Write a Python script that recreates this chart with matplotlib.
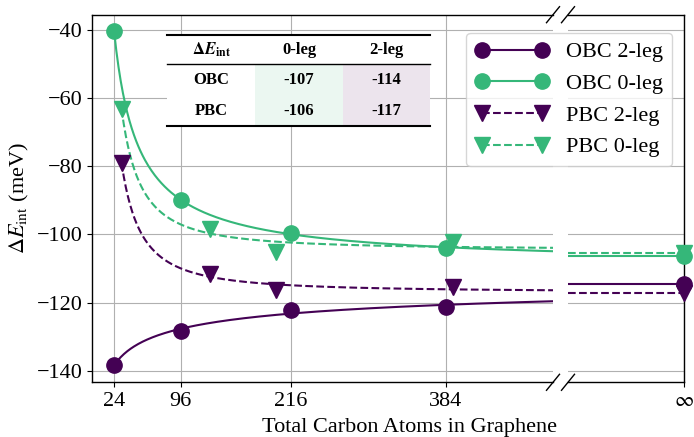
import numpy as np
import matplotlib
matplotlib.use('Agg')
import matplotlib.pyplot as plt
from matplotlib.lines import Line2D
from matplotlib.patches import Rectangle

plt.rcParams['font.family'] = ['Liberation Serif', 'DejaVu Serif']
plt.rcParams['mathtext.fontset'] = 'stix'
plt.rcParams['font.size'] = 16

purple = '#440154'
green = '#35b779'

# data
n_obc = [24, 96, 216, 384]
n_pbc = [32, 128, 200, 392]
obc_2leg = [-138.3, -128.3, -122.2, -121.2]
obc_0leg = [-40.5, -90.0, -99.5, -104.1]
pbc_2leg = [-79.0, -111.7, -116.2, -115.4]
pbc_0leg = [-63.2, -98.3, -105.1, -102.2]

# extrapolated values (N -> infinity)
inf_obc_2leg = -114.5
inf_obc_0leg = -106.4
inf_pbc_2leg = -117.2
inf_pbc_0leg = -105.5

xticks = [24, 96, 216, 384]

table_head = [r'$\boldsymbol{\Delta E}_{\mathbf{int}}$', '0-leg', '2-leg']
table_rows = [['OBC', '-107', '-114'],
              ['PBC', '-106', '-117']]


def fit_curve(n, y, n_end=500):
    # y = a + b * N^-c, c picked by a small grid search
    n = np.asarray(n, float)
    y = np.asarray(y, float)
    best = None
    for c in np.linspace(0.1, 3.0, 291):
        A = np.column_stack([np.ones_like(n), n ** -c])
        coef = np.linalg.lstsq(A, y, rcond=None)[0]
        err = np.sum((A @ coef - y) ** 2)
        if best is None or err < best[0]:
            best = (err, c, coef)
    _, c, (a, b) = best
    xx = np.linspace(n[0], n_end, 400)
    return xx, a + b * xx ** -c


fig = plt.figure(figsize=(6.94, 4.37), dpi=100)
W, H = 694, 437
bot = 1 - 382.3 / H
hgt = 367.6 / H
ax = fig.add_axes([92 / W, bot, 461 / W, hgt])
ax2 = fig.add_axes([568 / W, bot, 116 / W, hgt], sharey=ax)

series = [
    ('OBC 2-leg', n_obc, obc_2leg, inf_obc_2leg, purple, 'o', '-'),
    ('OBC 0-leg', n_obc, obc_0leg, inf_obc_0leg, green, 'o', '-'),
    ('PBC 2-leg', n_pbc, pbc_2leg, inf_pbc_2leg, purple, 'v', '--'),
    ('PBC 0-leg', n_pbc, pbc_0leg, inf_pbc_0leg, green, 'v', '--'),
]

handles = []
for label, n, y, yinf, col, mk, ls in series:
    xx, yy = fit_curve(n, y)
    ax.plot(xx, yy, color=col, ls=ls, lw=1.5, zorder=2)
    ax.plot(n, y, ls='none', marker=mk, color=col, ms=11, zorder=3)
    ax2.plot([0, 1], [yinf, yinf], color=col, ls=ls, lw=1.5, zorder=2)
    ax2.plot([1], [yinf], ls='none', marker=mk, color=col, ms=11,
             clip_on=False, zorder=3)
    handles.append(Line2D([], [], color=col, ls=ls, lw=1.5, marker=mk, ms=11,
                          label=label))

ax.set_xlim(0, 500)
ax.set_ylim(-143.4, -35.6)
ax.set_xticks(xticks)
ax.set_yticks([-140, -120, -100, -80, -60, -40])
ax.grid(True, color='#b0b0b0', lw=0.8)
ax.spines['right'].set_visible(False)
ax.set_ylabel(r'$\Delta E_{\mathrm{int}}$ (meV)')

ax2.set_xlim(0, 1)
ax2.set_xticks([1])
ax2.set_xticklabels([r'$\infty$'], fontsize=15)
ax2.grid(True, color='#b0b0b0', lw=0.8)
ax2.spines['left'].set_visible(False)
ax2.tick_params(left=False, labelleft=False)

for a in (ax, ax2):
    for s in a.spines.values():
        s.set_color('black')
        s.set_linewidth(1.0)

# break marks
kw = dict(color='black', lw=1.0, clip_on=False)
dx, dy = 6.5 / 461, 8 / 367.6
ax.plot([1 - dx, 1 + dx], [1 - dy, 1 + dy], transform=ax.transAxes, **kw)
ax.plot([1 - dx, 1 + dx], [-dy, dy], transform=ax.transAxes, **kw)
dx2 = 6.5 / 116
ax2.plot([-dx2, dx2], [1 - dy, 1 + dy], transform=ax2.transAxes, **kw)
ax2.plot([-dx2, dx2], [-dy, dy], transform=ax2.transAxes, **kw)

fig.text(410 / W, 1 - 432 / H, 'Total Carbon Atoms in Graphene',
         ha='center', va='baseline')

fig.legend(handles=handles, loc='upper right', numpoints=2,
           bbox_to_anchor=(672 / W, 1 - 33 / H), handlelength=3.3,
           fontsize=16, borderaxespad=0)

# inset table
xe = [(p - 92) / 461 for p in (167, 255, 343, 430)]
ye = [(382.3 - p) / 367.6 for p in (35, 64.3, 95.2, 126)]
fills = [['white', 'white', 'white'],
         ['white', '#ebf7f1', '#ece4ed'],
         ['white', '#ebf7f1', '#ece4ed']]
cells = [table_head] + table_rows
for i, row in enumerate(cells):
    for j, txt in enumerate(row):
        ax.add_patch(Rectangle((xe[j], ye[i + 1]), xe[j + 1] - xe[j],
                               ye[i] - ye[i + 1], transform=ax.transAxes,
                               facecolor=fills[i][j], edgecolor='none',
                               zorder=4))
        ax.text((xe[j] + xe[j + 1]) / 2, (ye[i] + ye[i + 1]) / 2, txt,
                transform=ax.transAxes, ha='center', va='center',
                fontsize=12, fontweight='bold', zorder=5)
for yv, lw in ((ye[0], 1.5), (ye[1], 1.0), (ye[3], 1.5)):
    ax.plot([xe[0], xe[3]], [yv, yv], color='black', lw=lw,
            transform=ax.transAxes, zorder=5)

fig.savefig('out.png', dpi=100)
